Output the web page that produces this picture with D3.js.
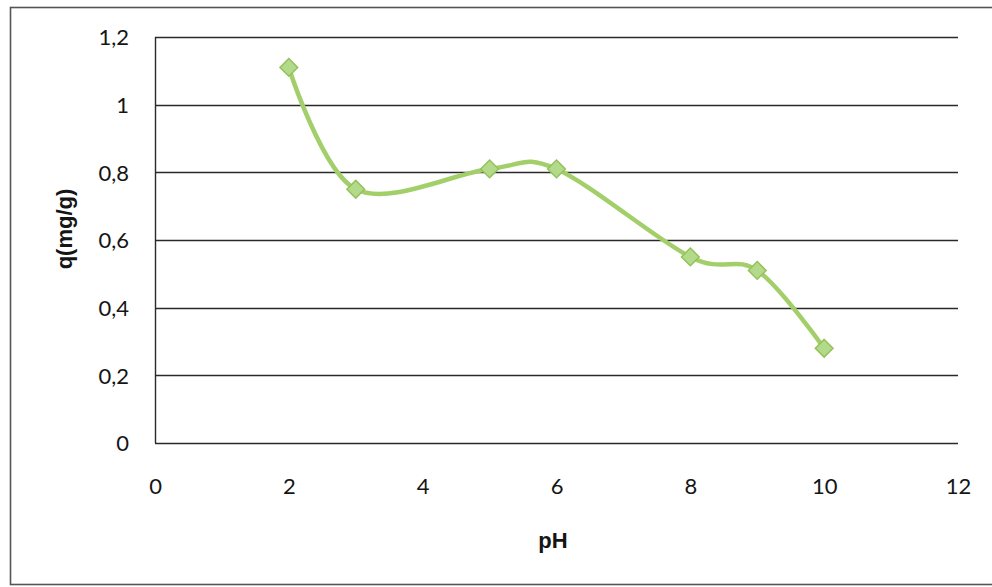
<!DOCTYPE html>
<html>
<head>
<meta charset="utf-8">
<script src="https://cdn.jsdelivr.net/npm/d3@7"></script>
<style>
  body { margin: 0; background: #fff; }
  text { font-family: Lato, "Open Sans", sans-serif; fill: #151515; }
</style>
</head>
<body>
<div id="chart"></div>
<script>
// values
var phValues = [2, 3, 5, 6, 8, 9, 10];
var qValues = [1.11, 0.75, 0.81, 0.81, 0.55, 0.51, 0.28];
var xTicks = [0, 2, 4, 6, 8, 10, 12];
var yTicks = [0, 0.2, 0.4, 0.6, 0.8, 1, 1.2];

var width = 992, height = 587;
var margin = { left: 155, right: 34, top: 37, bottom: 144 };

var svg = d3.select("#chart").append("svg")
  .attr("width", width)
  .attr("height", height);

// chart border
svg.append("rect")
  .attr("x", 10.5).attr("y", 7.5)
  .attr("width", 990).attr("height", 577)
  .attr("fill", "none")
  .attr("stroke", "#555")
  .attr("stroke-width", 1.6);

var x = d3.scaleLinear().domain([0, 12]).range([margin.left, width - margin.right]);
var y = d3.scaleLinear().domain([0, 1.2]).range([height - margin.bottom, margin.top]);

var fmt = function(d) { return String(d).replace(".", ","); };

// horizontal gridlines
svg.append("g")
  .selectAll("line")
  .data(yTicks)
  .enter()
  .append("line")
  .attr("x1", x(0)).attr("x2", x(12))
  .attr("y1", function(d) { return Math.round(y(d)) + 0.5; })
  .attr("y2", function(d) { return Math.round(y(d)) + 0.5; })
  .attr("stroke", "#2a2a2a")
  .attr("stroke-width", 1.4);

// y axis line
svg.append("line")
  .attr("x1", x(0) + 0.5).attr("x2", x(0) + 0.5)
  .attr("y1", y(1.2)).attr("y2", y(0))
  .attr("stroke", "#2a2a2a")
  .attr("stroke-width", 1.4);

// y tick labels
var yAxis = svg.append("g")
  .attr("transform", "translate(" + x(0) + ",0)")
  .call(d3.axisLeft(y).tickValues(yTicks).tickFormat(fmt).tickSize(0).tickPadding(26));
yAxis.select(".domain").remove();
yAxis.selectAll("text").style("font-size", "22px").attr("dy", "0.35em");

// x tick labels
var xAxis = svg.append("g")
  .attr("transform", "translate(0," + y(0) + ")")
  .call(d3.axisBottom(x).tickValues(xTicks).tickFormat(fmt).tickSize(0).tickPadding(35));
xAxis.select(".domain").remove();
xAxis.selectAll("text").style("font-size", "22px");

// axis titles
svg.append("text")
  .attr("transform", "translate(72,229) rotate(-90)")
  .attr("text-anchor", "middle")
  .style("font-family", "'Liberation Sans', Arial, sans-serif")
  .style("font-size", "22px")
  .style("font-weight", "bold")
  .text("q(mg/g)");

svg.append("text")
  .attr("x", 553).attr("y", 548)
  .attr("text-anchor", "middle")
  .style("font-family", "'Liberation Sans', Arial, sans-serif")
  .style("font-size", "22px")
  .style("font-weight", "bold")
  .text("pH");

// smoothed series line
var pts = phValues.map(function(d, i) { return [d, qValues[i]]; });
var line = d3.line()
  .x(function(d) { return x(d[0]); })
  .y(function(d) { return y(d[1]); })
  .curve(d3.curveCardinal.tension(0));

svg.append("path")
  .datum(pts)
  .attr("d", line)
  .attr("fill", "none")
  .attr("stroke", "#a3cf6a")
  .attr("stroke-width", 4.5)
  .attr("stroke-linejoin", "round");

// diamond markers
var diamond = d3.symbol().type(d3.symbolDiamond2).size(200);
svg.append("g")
  .selectAll("path")
  .data(pts)
  .enter()
  .append("path")
  .attr("transform", function(d) { return "translate(" + x(d[0]) + "," + y(d[1]) + ")"; })
  .attr("d", diamond)
  .attr("fill", "#b3d98a")
  .attr("stroke", "#94c25a")
  .attr("stroke-width", 1.5);
</script>
</body>
</html>
